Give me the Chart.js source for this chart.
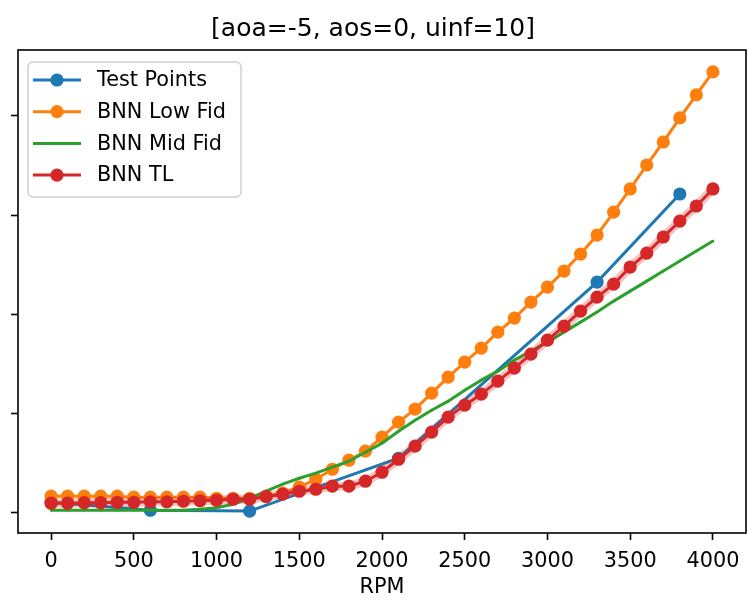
<!DOCTYPE html>
<html>
<head>
<meta charset="utf-8">
<script src="https://cdn.jsdelivr.net/npm/chart.js@4.4.1/dist/chart.umd.min.js"></script>
<style>
  html, body { margin: 0; padding: 0; background: #fff; }
  #wrap { width: 748px; height: 602px; }
</style>
</head>
<body>
<div id="wrap"><canvas id="rpmChart" width="748" height="602"></canvas></div>
<script>
// RPM sweep used by the three BNN models
const rpm = [
    0, 100, 200, 300, 400, 500, 600, 700, 800, 900,
    1000, 1100, 1200, 1300, 1400, 1500, 1600, 1700, 1800, 1900,
    2000, 2100, 2200, 2300, 2400, 2500, 2600, 2700, 2800, 2900,
    3000, 3100, 3200, 3300, 3400, 3500, 3600, 3700, 3800, 3900, 4000
];

// measured test points
const testRpm = [0, 600, 1200, 2100, 3300, 3800];
const testVals = [0.101, 0.020, 0.012, 0.545, 2.323, 3.212];

const lowFid = [
    0.162, 0.162, 0.162, 0.162, 0.162, 0.152, 0.152, 0.152, 0.152, 0.152,
    0.141, 0.141, 0.141, 0.162, 0.192, 0.253, 0.333, 0.434, 0.525, 0.616,
    0.758, 0.909, 1.040, 1.202, 1.364, 1.515, 1.657, 1.818, 1.960, 2.121,
    2.273, 2.434, 2.606, 2.798, 3.030, 3.263, 3.505, 3.737, 3.980, 4.212, 4.444
];

const midFid = [
    0.020, 0.020, 0.020, 0.020, 0.020, 0.020, 0.020, 0.020, 0.020, 0.030,
    0.045, 0.081, 0.141, 0.212, 0.283, 0.343, 0.394, 0.455, 0.515, 0.606,
    0.697, 0.818, 0.929, 1.030, 1.121, 1.232, 1.333, 1.424, 1.535, 1.626,
    1.717, 1.818, 1.919, 2.020, 2.131, 2.232, 2.333, 2.434, 2.535, 2.636, 2.737
];

const transfer = [
    0.091, 0.091, 0.096, 0.096, 0.101, 0.101, 0.106, 0.106, 0.111, 0.116,
    0.121, 0.131, 0.131, 0.157, 0.182, 0.212, 0.232, 0.263, 0.263, 0.313,
    0.404, 0.535, 0.667, 0.808, 0.960, 1.081, 1.192, 1.323, 1.455, 1.596,
    1.737, 1.879, 2.030, 2.172, 2.303, 2.475, 2.616, 2.778, 2.939, 3.091, 3.263
];

const xTicks = [0, 500, 1000, 1500, 2000, 2500, 3000, 3500, 4000];
const yTicks = [0, 1, 2, 3, 4];

const BLUE = '#1f77b4', ORANGE = '#ff7f0e', GREEN = '#2ca02c', RED = '#d62728';
const FONT = "'DejaVu Sans', sans-serif";
const DOT = 6.6;

function pts(xs, ys) {
    return xs.map((x, i) => ({ x: x, y: ys[i] }));
}

// 5% margin on each side, like matplotlib autoscale
function limits(vals) {
    const lo = Math.min(...vals), hi = Math.max(...vals);
    const m = (hi - lo) * 0.05;
    return [lo - m, hi + m];
}

const xLim = limits(rpm.concat(testRpm));
const yLim = limits(testVals.concat(lowFid, midFid, transfer));

function series(label, xs, ys, color, radius, order) {
    return {
        label: label,
        data: pts(xs, ys),
        borderColor: color,
        backgroundColor: color,
        borderWidth: 3,
        pointRadius: radius,
        pointBorderWidth: 0,
        pointHoverRadius: radius,
        tension: 0,
        order: order
    };
}

const datasets = [
    series('Test Points', testRpm, testVals, BLUE, DOT, 5),
    series('BNN Low Fid', rpm, lowFid, ORANGE, DOT, 4),
    series('BNN Mid Fid', rpm, midFid, GREEN, 1.4, 3),
    series('BNN TL', rpm, transfer, RED, DOT, 1),
    // soft uncertainty band under the TL curve
    {
        data: pts(rpm, transfer),
        borderColor: 'rgba(214, 39, 40, 0.28)',
        borderWidth: 9,
        pointRadius: 0,
        pointHoverRadius: 0,
        tension: 0,
        order: 2
    }
];

// black box around the plot area
const framePlugin = {
    id: 'frame',
    afterDatasetsDraw(chart) {
        const a = chart.chartArea, ctx = chart.ctx;
        ctx.save();
        ctx.strokeStyle = '#000';
        ctx.lineWidth = 1.6;
        ctx.strokeRect(a.left, a.top, a.right - a.left, a.bottom - a.top);
        ctx.restore();
    }
};

// legend drawn inside the upper-left corner
const boxLegend = {
    id: 'boxLegend',
    afterDraw(chart) {
        const a = chart.chartArea, ctx = chart.ctx;
        const items = chart.data.datasets.filter(d => d.label);
        const bx = a.left + 10, by = a.top + 12, bw = 213, bh = 135;
        ctx.save();
        ctx.beginPath();
        ctx.roundRect(bx, by, bw, bh, 5);
        ctx.fillStyle = 'rgba(255, 255, 255, 0.8)';
        ctx.fill();
        ctx.strokeStyle = '#d0d0d0';
        ctx.lineWidth = 1.5;
        ctx.stroke();

        items.forEach((d, i) => {
            const y = by + 18 + i * 31.7;
            ctx.strokeStyle = d.borderColor;
            ctx.lineWidth = 3;
            ctx.beginPath();
            ctx.moveTo(bx + 5, y);
            ctx.lineTo(bx + 53, y);
            ctx.stroke();
            ctx.fillStyle = d.backgroundColor;
            ctx.beginPath();
            ctx.arc(bx + 29, y, d.pointRadius, 0, Math.PI * 2);
            ctx.fill();

            ctx.fillStyle = '#000';
            ctx.font = '20.8px ' + FONT;
            ctx.textBaseline = 'middle';
            ctx.textAlign = 'left';
            ctx.fillText(d.label, bx + 69, y + 1);
        });
        ctx.restore();
    }
};

const tickGrid = {
    display: true,
    drawOnChartArea: false,
    drawTicks: true,
    tickLength: 7,
    tickWidth: 1.6,
    tickColor: '#000'
};

new Chart(document.getElementById('rpmChart'), {
    type: 'line',
    data: { datasets: datasets },
    options: {
        responsive: false,
        devicePixelRatio: 1,
        animation: false,
        layout: { autoPadding: false, padding: { left: 0, right: 2, top: 0, bottom: 0 } },
        plugins: {
            legend: { display: false },
            tooltip: { enabled: false },
            title: {
                display: true,
                text: '[aoa=-5, aos=0, uinf=10]',
                color: '#000',
                font: { family: FONT, size: 25, weight: 'normal' },
                padding: { top: 14, bottom: 6 }
            }
        },
        scales: {
            x: {
                type: 'linear',
                min: xLim[0],
                max: xLim[1],
                grid: tickGrid,
                border: { display: false },
                afterBuildTicks: s => { s.ticks = xTicks.map(v => ({ value: v })); },
                afterFit: s => { s.height = 69; s.paddingLeft = 0; s.paddingRight = 0; },
                ticks: {
                    color: '#000',
                    padding: 9,
                    maxRotation: 0,
                    font: { family: FONT, size: 20.8 },
                    callback: v => String(v)
                },
                title: {
                    display: true,
                    text: 'RPM',
                    color: '#000',
                    font: { family: FONT, size: 20.8 },
                    padding: { top: 0, bottom: 2 }
                }
            },
            y: {
                type: 'linear',
                min: yLim[0],
                max: yLim[1],
                grid: tickGrid,
                border: { display: false },
                afterBuildTicks: s => { s.ticks = yTicks.map(v => ({ value: v })); },
                afterFit: s => { s.width = 18; s.paddingTop = 0; s.paddingBottom = 0; },
                ticks: { display: true, callback: () => '' }
            }
        }
    },
    plugins: [framePlugin, boxLegend]
});
</script>
</body>
</html>
